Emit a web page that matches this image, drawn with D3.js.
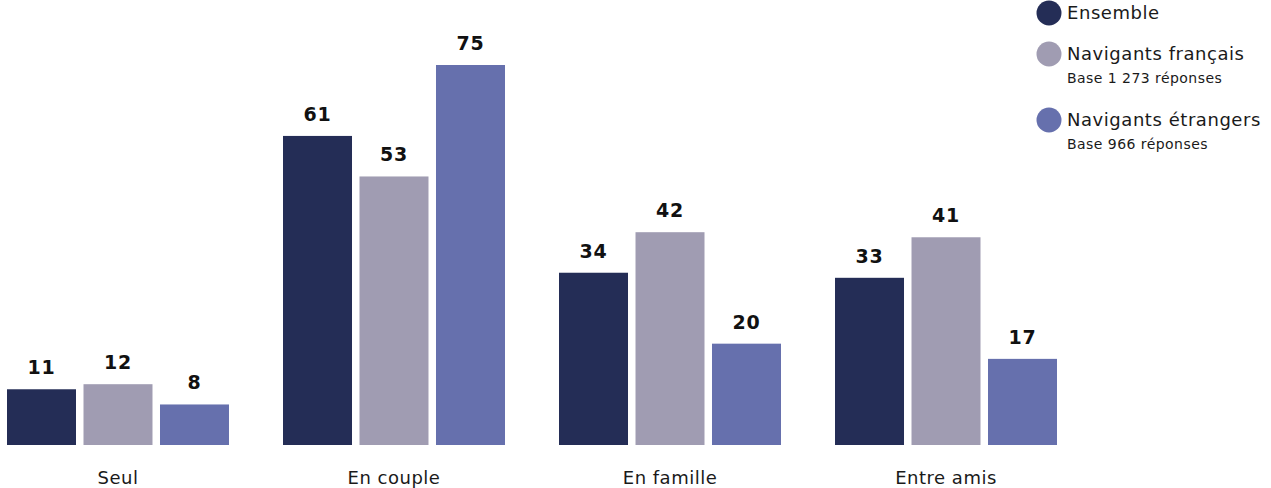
<!DOCTYPE html>
<html><head><meta charset="utf-8">
<script src="https://cdn.jsdelivr.net/npm/d3@7"></script>
<style>html,body{margin:0;padding:0;background:#fff;}svg{display:block;font-family:"DejaVu Sans",sans-serif;}</style>
</head><body>
<svg id="chart" width="1271" height="488"></svg>
<script>
const categories = ["Seul", "En couple", "En famille", "Entre amis"];
const seriesNames = ["Ensemble", "Navigants français", "Navigants étrangers"];
const seriesNotes = ["", "Base 1 273 réponses", "Base 966 réponses"];
const ensemble = [11, 61, 34, 33];
const francais = [12, 53, 42, 41];
const etrangers = [8, 75, 20, 17];
const colors = ["#242d56", "#a09cb2", "#6670ad"];

const seriesValues = [ensemble, francais, etrangers];
const svg = d3.select("#chart");

const x0 = d3.scaleBand().domain(categories).range([7, 1057]).paddingInner(0.1957).paddingOuter(0);
const x1 = d3.scaleBand().domain(seriesNames).range([0, x0.bandwidth()]).paddingInner(0.098).paddingOuter(0);
const y = d3.scaleLinear().domain([0, 75]).range([445, 65]);

const data = categories.map((c, i) => ({cat: c, vals: seriesNames.map((s, j) => ({s, v: seriesValues[j][i], j}))}));

const g = svg.selectAll("g.grp").data(data).join("g").attr("class", "grp")
  .attr("transform", d => `translate(${x0(d.cat)},0)`);

g.selectAll("rect").data(d => d.vals).join("rect")
  .attr("x", d => x1(d.s)).attr("width", x1.bandwidth())
  .attr("y", d => y(d.v)).attr("height", d => y(0) - y(d.v))
  .attr("fill", d => colors[d.j]);

g.selectAll("text.val").data(d => d.vals).join("text").attr("class", "val")
  .attr("x", d => x1(d.s) + x1.bandwidth() / 2)
  .attr("y", d => y(d.v) - 15)
  .attr("text-anchor", "middle")
  .attr("font-size", 19).attr("font-weight", 700).attr("fill", "#111")
  .attr("letter-spacing", 0.8)
  .text(d => d.v);

// category axis labels
const xAxis = d3.axisBottom(x0).tickSize(0).tickPadding(0);
const ax = svg.append("g").attr("transform", "translate(0,445)").call(xAxis);
ax.select(".domain").remove();
ax.selectAll("text").attr("font-size", 18).attr("fill", "#1a1a1a")
  .attr("font-family", "DejaVu Sans, sans-serif").attr("dy", null).attr("y", 39)
  .attr("letter-spacing", 0.5);

// legend
const legendY = [13, 54, 120];
const leg = svg.append("g");
seriesNames.forEach((s, i) => {
  leg.append("circle").attr("cx", 1049).attr("cy", legendY[i]).attr("r", 12.5).attr("fill", colors[i]);
  leg.append("text").attr("x", 1067).attr("y", legendY[i] + 6).attr("font-size", 18).attr("fill", "#1a1a1a")
    .attr("letter-spacing", 0.55).text(s);
  if (seriesNotes[i]) {
    leg.append("text").attr("x", 1067).attr("y", legendY[i] + 29).attr("font-size", 14).attr("fill", "#1a1a1a")
      .attr("letter-spacing", 0.45).text(seriesNotes[i]);
  }
});
</script>
</body></html>
